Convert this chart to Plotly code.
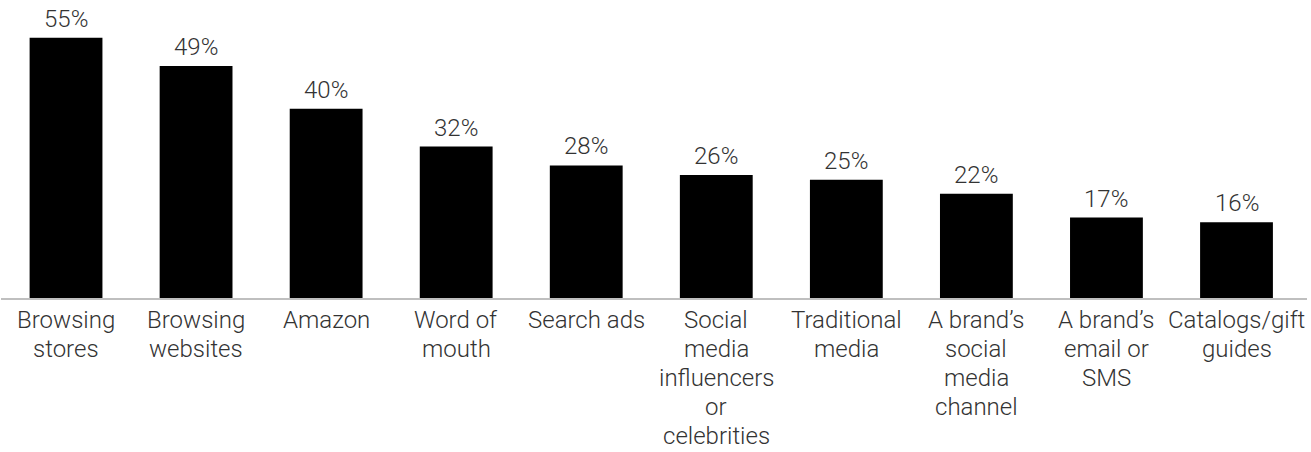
import plotly.graph_objects as go

categories = [
    "Browsing stores",
    "Browsing websites",
    "Amazon",
    "Word of mouth",
    "Search ads",
    "Social media influencers or celebrities",
    "Traditional media",
    "A brand’s social media channel",
    "A brand’s email or SMS",
    "Catalogs/gift guides",
]
tick_lines = [
    ["Browsing", "stores"],
    ["Browsing", "websites"],
    ["Amazon"],
    ["Word of", "mouth"],
    ["Search ads"],
    ["Social", "media", "influencers", "or", "celebrities"],
    ["Traditional", "media"],
    ["A brand’s", "social", "media", "channel"],
    ["A brand’s", "email or", "SMS"],
    ["Catalogs/gift", "guides"],
]
values = [55, 49, 40, 32, 28, 26, 25, 22, 17, 16]
value_labels = [f"{v}%" for v in values]

font_family = "Roboto"
text_color = "#333333"
fs = 24
label_font = dict(family=font_family, size=fs, color=text_color, weight=300)

fig = go.Figure(
    go.Bar(
        x=categories,
        y=values,
        marker=dict(color="#000000", line=dict(width=0)),
        hoverinfo="skip",
    )
)

annotations = []
for cat, v, lab in zip(categories, values, value_labels):
    annotations.append(dict(
        x=cat, y=v, xref="x", yref="y", text=lab, showarrow=False,
        yanchor="middle", yshift=19, font=label_font,
    ))
for cat, lines in zip(categories, tick_lines):
    for i, ln in enumerate(lines):
        annotations.append(dict(
            x=cat, y=0, xref="x", yref="y", text=ln, showarrow=False,
            yanchor="middle", yshift=-(22 + 29 * i), font=label_font,
        ))

fig.update_layout(
    width=1311,
    height=452,
    margin=dict(l=1, r=4, t=14, b=154),
    paper_bgcolor="white",
    plot_bgcolor="white",
    bargap=0.44,
    showlegend=False,
    font=label_font,
    annotations=annotations,
)
fig.update_xaxes(
    showline=True,
    linecolor="#bfbfbf",
    linewidth=2,
    showgrid=False,
    ticks="",
    showticklabels=False,
)
fig.update_yaxes(
    range=[0, 60],
    visible=False,
    showgrid=False,
    zeroline=False,
)

fig.write_html("out.html")
